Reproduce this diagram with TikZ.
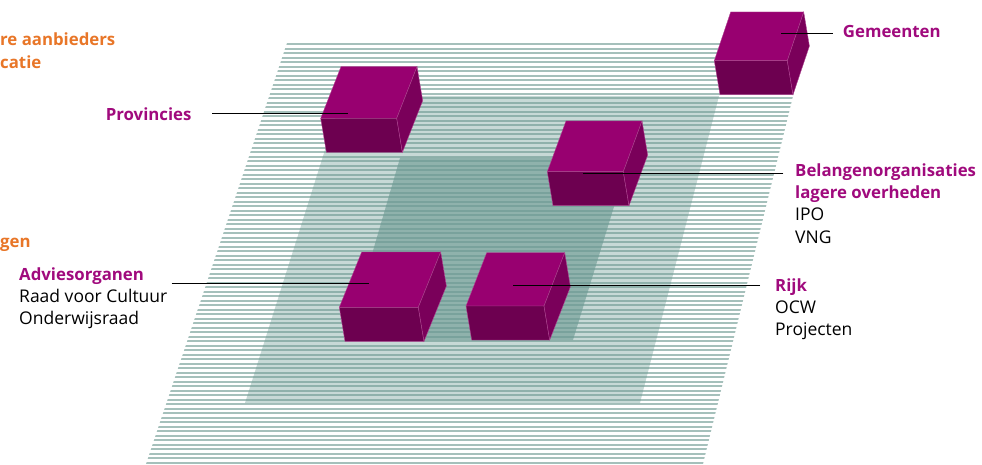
\documentclass[tikz,border=0pt]{standalone}
\usepackage{fontspec}
\setmainfont{Open Sans}
\definecolor{paars}{RGB}{152,0,112}
\definecolor{paarsdonker}{RGB}{109,0,80}
\definecolor{paarszij}{RGB}{122,0,90}
\definecolor{paarsrand}{RGB}{175,70,145}
\definecolor{tekstpaars}{RGB}{160,10,125}
\definecolor{oranje}{RGB}{232,118,40}
\definecolor{streep}{RGB}{165,192,187}
\definecolor{vlak}{RGB}{108,154,147}
\newcommand{\vet}{\fontsize{16.8}{22.4}\selectfont\bfseries}
\tikzset{
  tekst/.style={font=\fontsize{17.5}{22.4}\selectfont, align=left, inner sep=0pt},
  kop/.style={tekst, font=\vet, text=tekstpaars},
  oranjekop/.style={tekst, font=\vet, text=oranje},
  verbinding/.style={line width=0.9pt, black},
  vlakmidden/.style={fill=vlak, fill opacity=0.38},
  vlakbinnen/.style={fill=vlak, fill opacity=0.62}
}
% blok: front-left-top corner, width, depth offset
\newcommand{\blok}[5]{
\fill[paars, draw=paarsrand, line width=0.4pt] (#1,#2) -- ++(#3,0) -- ++(#4,-#5) -- ++(-#3,0) -- cycle;
\fill[paarsdonker, draw=paarsrand, line width=0.4pt] (#1,#2) -- ++(#3,0) -- ++(5.7,34) -- ++(-#3,0) -- cycle;
\fill[paarszij, draw=paarsrand, line width=0.4pt] (#1+#3,#2) -- ++(#4,-#5) -- ++(5.7,34) -- ++(-#4,#5) -- cycle;
}
\begin{document}
\begin{tikzpicture}[x=1pt, y=-1pt]
\useasboundingbox (0,0) rectangle (982,465);
\begin{scope}
\clip (287,43) -- (806,43) -- (703,464) -- (146,464) -- cycle;
\foreach \i in {0,...,93}
  \draw[streep, line width=2pt] (100,44.2+4.5*\i) -- (850,44.2+4.5*\i);
\end{scope}
\fill[vlakmidden] (342,96) -- (719,96) -- (640,403) -- (245,403) -- cycle;
\fill[vlakbinnen] (400,158) -- (629,158) -- (573,340) -- (347,340) -- cycle;

\blok{320.7}{118.3}{76}{20.3}{51.6}
\blok{714.3}{60.7}{73}{16.4}{48.7}
\blok{547.3}{171.7}{76}{18.7}{50.7}
\blok{339.3}{307.3}{79}{22.4}{55.3}
\blok{466}{306}{78}{20.7}{53.3}

\coordinate (provEnd) at (348.3,113.3);
\coordinate (gemEnd) at (781,33.3);
\coordinate (belEnd) at (582.7,173.3);
\coordinate (advEnd) at (369.3,283.5);
\coordinate (rijkEnd) at (512.7,285);

\node[oranjekop, anchor=base west] (andere) at (0,45.7) {re aanbieders};
\node[oranjekop, anchor=base west] (educatie) at (0,68.3) {catie};
\node[oranjekop, anchor=base west] (gen) at (0,247.5) {gen};

\node[kop, anchor=base east, inner xsep=20.6pt] (provincies) at (212.3,120.7) {Provincies};
\node[kop, anchor=base west, inner xsep=10pt] (gemeenten) at (832.7,37.7) {Gemeenten};
\node[tekst, anchor=base west, inner xsep=11.7pt] (belangen) at (783.3,243.2)
  {\textcolor{tekstpaars}{\vet Belangenorganisaties}\\
   \textcolor{tekstpaars}{\vet lagere overheden}\\IPO\\VNG};
\node[tekst, anchor=base west, inner xsep=15pt] (rijk) at (760,335.8)
  {\textcolor{tekstpaars}{\vet Rijk}\\OCW\\Projecten};
\node[tekst, anchor=base west] (advies) at (19,324.8)
  {\textcolor{tekstpaars}{\vet Adviesorganen}\\Raad voor Cultuur\\Onderwijsraad};

\draw[verbinding] (provEnd -| provincies.east) -- (provEnd);
\draw[verbinding] (gemEnd -| gemeenten.west) -- (gemEnd);
\draw[verbinding] (belEnd -| belangen.west) -- (belEnd);
\draw[verbinding] (rijkEnd -| rijk.west) -- (rijkEnd);
\draw[verbinding] ([xshift=4pt]advEnd -| advies.east) -- (advEnd);
\end{tikzpicture}
\end{document}
